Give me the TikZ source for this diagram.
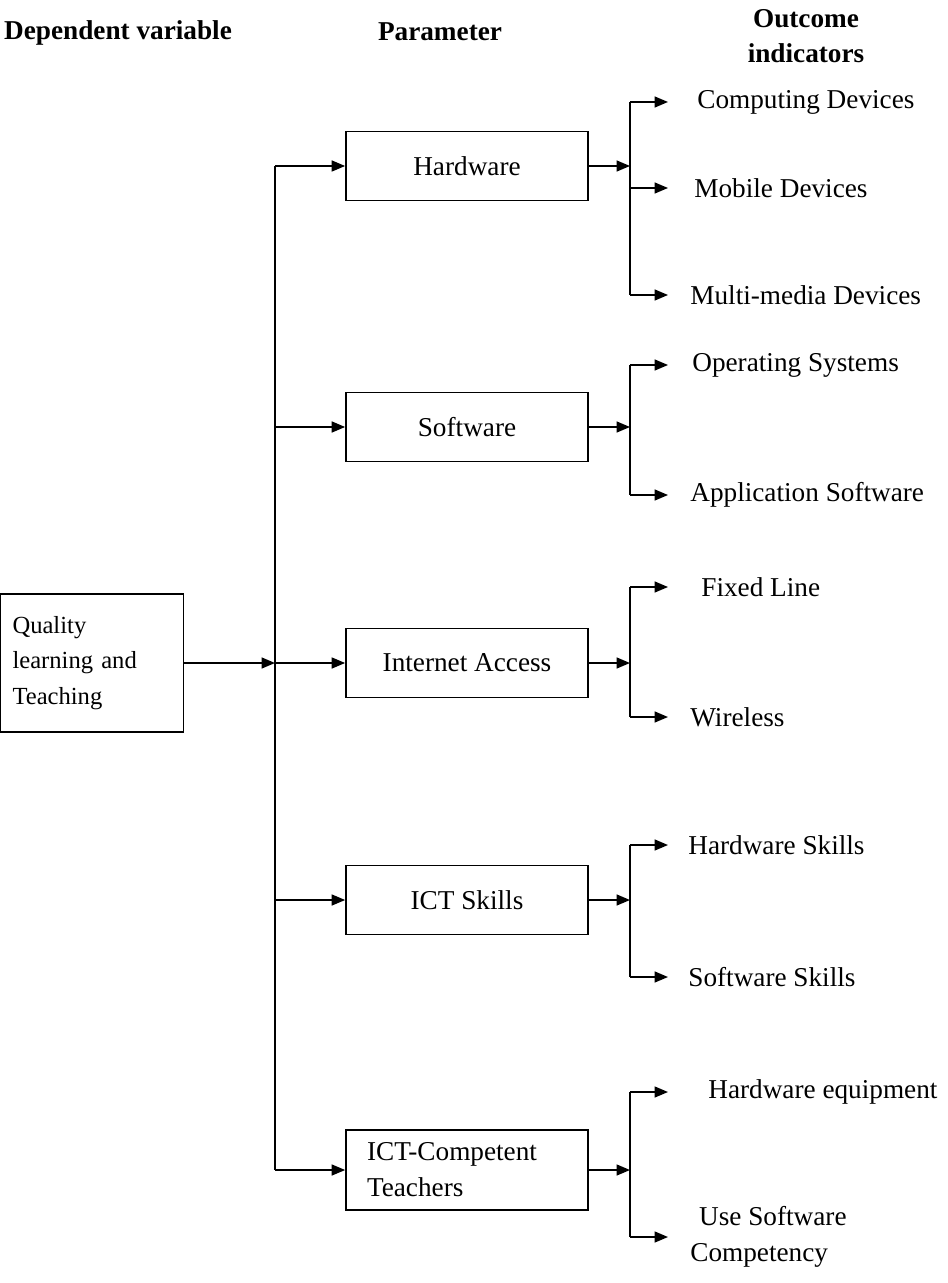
\documentclass[tikz,border=0pt]{standalone}
\usepackage{fontspec}
\setmainfont{Liberation Serif}
\usetikzlibrary{arrows.meta, positioning}

\begin{document}
\begin{tikzpicture}[x=0.02cm, y=-0.02cm,
    every node/.style={font=\fontsize{15.5}{20.5}\selectfont},
    head/.style={font=\fontsize{15.5}{20}\selectfont\bfseries, align=center},
    param/.style={draw, line width=1pt, minimum width=4.84cm, minimum height=1.38cm},
    outcome/.style={anchor=west, inner sep=0pt, align=left},
    link/.style={line width=0.9pt, -{Triangle[length=0.27cm, width=0.22cm]}},
    rail/.style={line width=0.9pt}]
  \useasboundingbox (0,0) rectangle (947,1283);

  % Headings
  \node[head] (dep) at (118,33) {Dependent variable};
  \node[head] (par) at (440,32) {Parameter};
  \node[head] (out) at (806,36) {Outcome\\indicators};

  % Nodes
  \node[draw, line width=1pt, minimum width=3.66cm, minimum height=2.76cm, inner sep=0.24cm,
        text width=3.18cm, align=left, font=\fontsize{14}{20.4}\selectfont]
        (qlt) at (92,663) {Quality\\learning and\\Teaching};
  \node[param] (hw) at (467,166) {Hardware};
  \node[param] (sw) at (467,427) {Software};
  \node[param] (ia) at (467,663) {Internet Access};
  \node[param] (ict) at (467,900) {ICT Skills};
  \node[param, minimum height=1.6cm, text width=4cm, align=left] (tc) at (467,1170) {ICT-Competent\\Teachers};

  \node[outcome] (cd) at (697,102) {Computing Devices};
  \node[outcome] (md) at (694,188) {Mobile Devices};
  \node[outcome] (mm) at (690,295) {Multi-media Devices};
  \node[outcome] (os) at (692,365) {Operating Systems};
  \node[outcome] (as) at (690,495) {Application Software};
  \node[outcome] (fl) at (701,587) {Fixed Line};
  \node[outcome] (wl) at (690,717) {Wireless};
  \node[outcome] (hs) at (688,845) {Hardware Skills};
  \node[outcome] (ss) at (688,977) {Software Skills};
  \node[outcome] (he) at (708,1092) {Hardware equipment};
  \node[outcome] (us) at (690,1237) {\hspace{5pt}Use Software\\Competency};

  \coordinate (spine) at (275,0);
  \coordinate (fork) at (630,0);
  \coordinate (tip) at (668,0);

  % Edges
  \draw[link] (qlt.east) -- (spine |- qlt.east);
  \draw[rail] (spine |- hw.west) -- (spine |- tc.west);
  \draw[link] (spine |- hw.west) -- (hw.west);
  \draw[link] (spine |- sw.west) -- (sw.west);
  \draw[link] (spine |- ia.west) -- (ia.west);
  \draw[link] (spine |- ict.west) -- (ict.west);
  \draw[link] (spine |- tc.west) -- (tc.west);

  \draw[link] (hw.east) -- (fork |- hw.east);
  \draw[rail] (fork |- cd.west) -- (fork |- mm.west);
  \draw[link] (fork |- cd.west) -- (tip |- cd.west);
  \draw[link] (fork |- md.west) -- (tip |- md.west);
  \draw[link] (fork |- mm.west) -- (tip |- mm.west);

  \draw[link] (sw.east) -- (fork |- sw.east);
  \draw[rail] (fork |- os.west) -- (fork |- as.west);
  \draw[link] (fork |- os.west) -- (tip |- os.west);
  \draw[link] (fork |- as.west) -- (tip |- as.west);

  \draw[link] (ia.east) -- (fork |- ia.east);
  \draw[rail] (fork |- fl.west) -- (fork |- wl.west);
  \draw[link] (fork |- fl.west) -- (tip |- fl.west);
  \draw[link] (fork |- wl.west) -- (tip |- wl.west);

  \draw[link] (ict.east) -- (fork |- ict.east);
  \draw[rail] (fork |- hs.west) -- (fork |- ss.west);
  \draw[link] (fork |- hs.west) -- (tip |- hs.west);
  \draw[link] (fork |- ss.west) -- (tip |- ss.west);

  \draw[link] (tc.east) -- (fork |- tc.east);
  \draw[rail] (fork |- he.west) -- (fork |- us.west);
  \draw[link] (fork |- he.west) -- (tip |- he.west);
  \draw[link] (fork |- us.west) -- (tip |- us.west);
\end{tikzpicture}
\end{document}
